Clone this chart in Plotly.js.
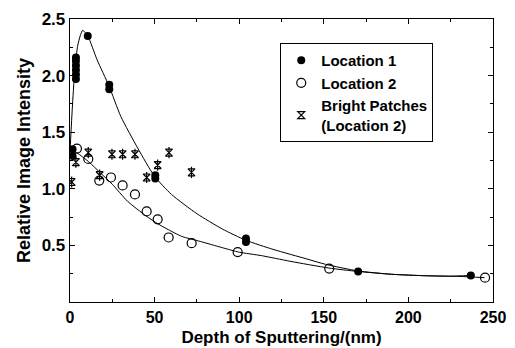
<!DOCTYPE html>
<html>
<head>
<meta charset="utf-8">
<script src="https://cdn.plot.ly/plotly-3.0.1.min.js"></script>
<style>html,body{margin:0;padding:0;background:#fff;}#chart{width:515px;height:348px;}</style>
</head>
<body>
<div id="chart"></div>
<script>
// Location 1 (filled circles)
const loc1X = [1.5, 1.5, 3.5, 3.5, 3.5, 3.5, 3.5, 3.5, 10.5, 23.2, 23.2, 50.4, 50.4, 104, 104, 170.3, 236.9];
const loc1Y = [1.35, 1.29, 1.97, 2.01, 2.05, 2.09, 2.13, 2.16, 2.35, 1.88, 1.92, 1.09, 1.12, 0.53, 0.56, 0.27, 0.235];
// Location 2 (open circles)
const loc2X = [4.1, 10.8, 17.3, 24.2, 31.1, 38.4, 45.3, 51.8, 58.3, 71.9, 99.1, 153.2, 245.3];
const loc2Y = [1.355, 1.264, 1.073, 1.10, 1.03, 0.95, 0.80, 0.73, 0.57, 0.52, 0.44, 0.295, 0.215];
// Bright patches (Location 2)
const brightX = [1.0, 3.5, 10.8, 17.5, 24.8, 31.1, 38.4, 45.3, 51.8, 58.5, 71.8];
const brightY = [1.06, 1.235, 1.32, 1.12, 1.305, 1.305, 1.305, 1.10, 1.21, 1.32, 1.145];
// Fitted curves
const curve1X = [0, 1.5, 3, 4.5, 6, 7.5, 10.5, 16, 23, 30, 40, 50, 60, 75, 90, 104, 120, 140, 151, 170, 190, 210, 225, 237];
const curve1Y = [1.33, 1.75, 2.08, 2.26, 2.35, 2.40, 2.35, 2.14, 1.91, 1.64, 1.36, 1.11, 0.95, 0.78, 0.645, 0.545, 0.465, 0.38, 0.333, 0.275, 0.245, 0.232, 0.228, 0.235];
const curve2X = [0, 4, 11, 18, 25, 34, 45, 52, 58, 66, 77, 90, 100, 113, 130, 153, 170, 190, 210, 230, 245];
const curve2Y = [1.36, 1.32, 1.24, 1.14, 1.04, 0.89, 0.76, 0.69, 0.64, 0.58, 0.535, 0.48, 0.44, 0.41, 0.36, 0.30, 0.27, 0.245, 0.232, 0.226, 0.215];
// Tick labels
const xTicks = [0, 50, 100, 150, 200, 250];
const yTicks = [0.5, 1.0, 1.5, 2.0, 2.5];

const FONT = 'Liberation Sans, Arial, Helvetica, sans-serif';

const traces = [
  {x: curve1X, y: curve1Y, mode: 'lines', line: {color: '#000', width: 1, shape: 'spline', smoothing: 0.6}, showlegend: false, hoverinfo: 'skip'},
  {x: curve2X, y: curve2Y, mode: 'lines', line: {color: '#000', width: 1, shape: 'spline', smoothing: 0.6}, showlegend: false, hoverinfo: 'skip'},
  {x: loc1X, y: loc1Y, mode: 'markers', name: 'Location 1', marker: {symbol: 'circle', size: 8, color: '#000'}},
  {x: loc2X, y: loc2Y, mode: 'markers', name: 'Location 2', marker: {symbol: 'circle-open', size: 9, color: '#000', line: {width: 1.2, color: '#000'}}},
  {x: brightX, y: brightY, mode: 'markers', name: 'Bright Patches<br>(Location 2)', marker: {symbol: 'hourglass-open', size: 7, color: '#000', line: {width: 1.2, color: '#000'}}},
  {x: brightX, y: brightY, mode: 'markers', showlegend: false, marker: {symbol: 'line-ns-open', size: 8, color: '#000', line: {width: 1.2, color: '#000'}}}
];

const layout = {
  width: 515, height: 348,
  margin: {l: 70, r: 22, t: 19, b: 46},
  paper_bgcolor: '#fff', plot_bgcolor: '#fff',
  font: {family: FONT, color: '#000', size: 16, weight: 'bold'},
  xaxis: {
    range: [0, 250], showgrid: false, zeroline: false,
    showline: true, linecolor: '#000', linewidth: 1.3, mirror: 'ticks',
    ticks: 'inside', ticklen: 5, tickcolor: '#000', tickwidth: 1,
    tickvals: xTicks, ticktext: xTicks.map(String),
    tickfont: {family: FONT, size: 16, weight: 'bold'},
    minor: {dtick: 25, ticks: 'inside', ticklen: 3, tickcolor: '#000', showgrid: false},
    title: {text: 'Depth of Sputtering/(nm)', font: {family: FONT, size: 17, weight: 'bold'}, standoff: 6}
  },
  yaxis: {
    range: [0, 2.5], showgrid: false, zeroline: false,
    showline: true, linecolor: '#000', linewidth: 1.3, mirror: 'ticks',
    ticks: 'inside', ticklen: 5, tickcolor: '#000', tickwidth: 1,
    tickvals: yTicks, ticktext: yTicks.map(v => v.toFixed(1)),
    tickfont: {family: FONT, size: 17, weight: 'bold'},
    minor: {dtick: 0.25, ticks: 'inside', ticklen: 3, tickcolor: '#000', showgrid: false},
    title: {text: 'Relative Image Intensity', font: {family: FONT, size: 18, weight: 'bold'}, standoff: 6}
  },
  legend: {
    x: 0.497, y: 0.915, xanchor: 'left', yanchor: 'top',
    bgcolor: '#fff', bordercolor: '#000', borderwidth: 1,
    font: {family: FONT, size: 15, weight: 'bold'},
    tracegroupgap: 0
  },
  showlegend: true
};

Plotly.newPlot('chart', traces, layout, {staticPlot: true, displayModeBar: false});
</script>
</body>
</html>
